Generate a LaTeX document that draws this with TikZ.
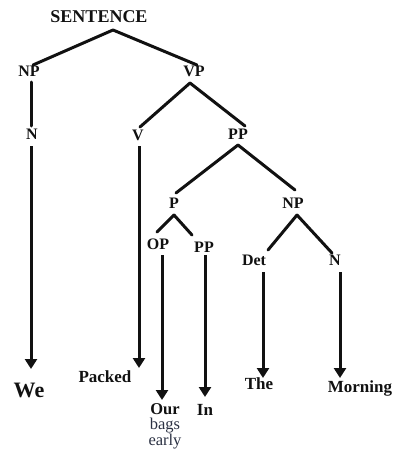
\documentclass[tikz,border=0pt]{standalone}
\usepackage{fontspec}
\setmainfont{Liberation Serif}
\usetikzlibrary{arrows.meta,calc}
\definecolor{ink}{HTML}{111111}
\definecolor{softink}{HTML}{2A3042}
\begin{document}
\begin{tikzpicture}[x=1pt,y=-1pt,
  tag/.style={font=\fontsize{16}{18}\selectfont\bfseries,text=ink,inner sep=1pt},
  word/.style={font=\fontsize{17}{19}\selectfont\bfseries,text=ink,inner sep=1pt},
  branch/.style={line width=3pt,draw=ink,line cap=round},
  lexarrow/.style={line width=3pt,draw=ink,-{Triangle[width=12pt,length=10pt]}}]
\useasboundingbox (0,0) rectangle (393,452);

% phrase labels
\node[tag,font=\fontsize{18}{20}\selectfont\bfseries] (S) at (99,17) {SENTENCE};
\node[tag] (NP) at (29,71) {NP};
\node[tag] (VP) at (194,71) {VP};
\node[tag] (N1) at (32,134) {N};
\node[tag] (V) at (138,135) {V};
\node[tag] (PP1) at (238,134) {PP};
\node[tag] (P) at (174,203) {P};
\node[tag] (NP2) at (293,203) {NP};
\node[tag] (OP) at (158,244) {OP};
\node[tag] (PP2) at (204,247) {PP};
\node[tag] (Det) at (254,260) {Det};
\node[tag] (N2) at (335,260) {N};

% words
\node[word,font=\fontsize{22}{24}\selectfont\bfseries] (We) at (29,390) {We};
\node[word] (Packed) at (105,377) {Packed};
\node[word,align=center,font=\fontsize{16.5}{15}\selectfont,anchor=north,inner sep=0.5pt] (OBE) at (165,403)
  {\textbf{Our}\\{\color{softink}bags}\\{\color{softink}early}};
\node[word] (In) at (205,410) {In};
\node[word] (The) at (259,384) {The};
\node[word] (Morning) at (360,388) {Morning};

% tree branches
\draw[branch] ($(S)+(14,13)$) -- ($(NP)+(4,-6)$);
\draw[branch] ($(S)+(14,13)$) -- ($(VP)+(3,-6)$);
\draw[branch] ($(NP)+(2,11)$) -- ($(N1)+(-1,-8)$);
\draw[branch] ($(VP)+(-4,12)$) -- ($(V)+(2,-8)$);
\draw[branch] ($(VP)+(-4,12)$) -- ($(PP1)+(7,-8)$);
\draw[branch] ($(PP1)+(0,11)$) -- ($(P)+(2,-10)$);
\draw[branch] ($(PP1)+(0,11)$) -- ($(NP2)+(2,-13)$);
\draw[branch] ($(P)+(0,12)$) -- ($(OP)+(-1,-12)$);
\draw[branch] ($(P)+(0,12)$) -- ($(PP2)+(-12,-12)$);
\draw[branch] ($(NP2)+(4,12)$) -- ($(Det)+(14,-10)$);
\draw[branch] ($(NP2)+(4,12)$) -- ($(N2)+(-3,-7)$);

% arrows down to the words
\draw[lexarrow] ($(N1)+(-1,12)$) -- ($(We)+(2,-21)$);
\draw[lexarrow] ($(V)+(1,11)$) -- ($(Packed)+(34,-9)$);
\draw[lexarrow] ($(OP)+(4,11)$) -- ($(OBE.north)+(-3,-3)$);
\draw[lexarrow] ($(PP2)+(1,8)$) -- ($(In)+(0,-13)$);
\draw[lexarrow] ($(Det)+(9,12)$) -- ($(The)+(4,-6)$);
\draw[lexarrow] ($(N2)+(5,12)$) -- ($(Morning)+(-20,-10)$);
\end{tikzpicture}
\end{document}
